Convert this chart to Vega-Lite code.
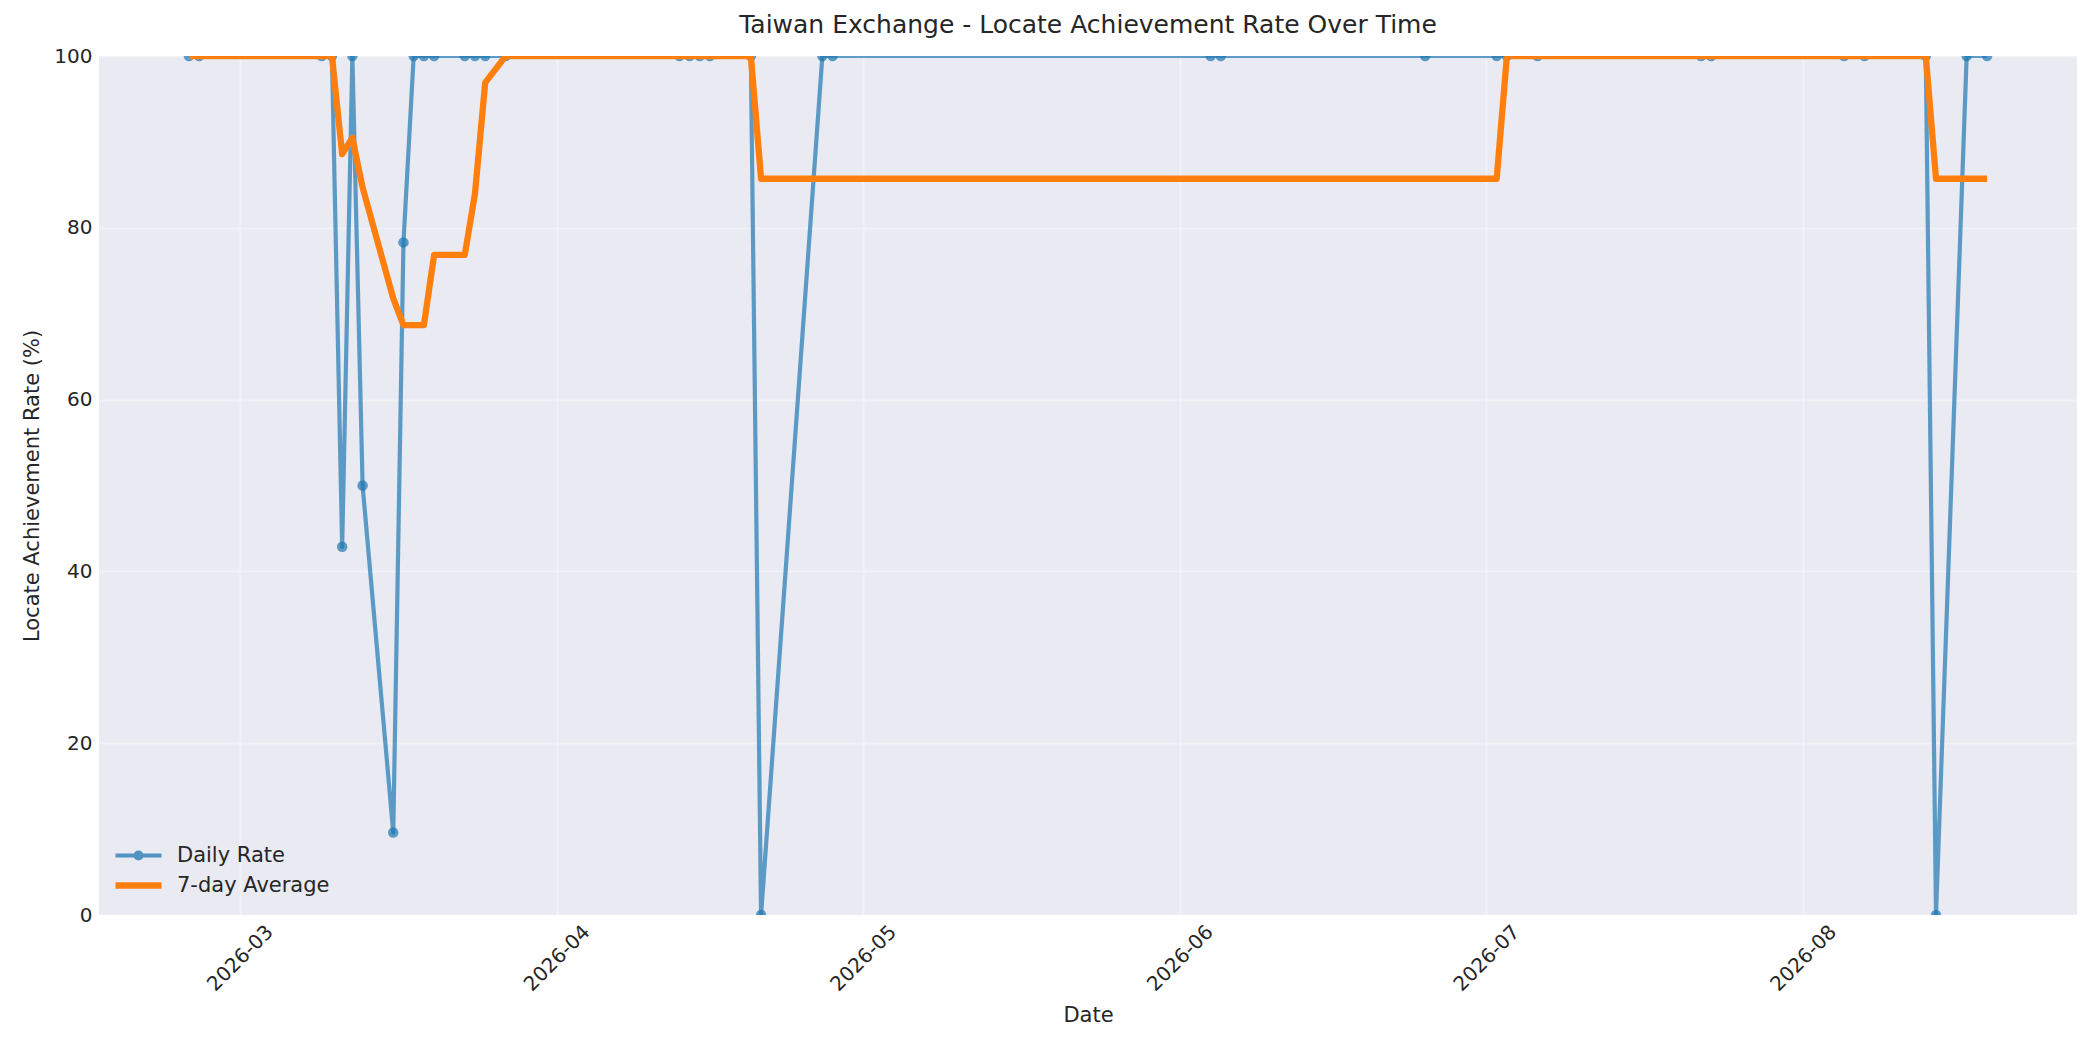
{
  "$schema": "https://vega.github.io/schema/vega-lite/v6.json",
  "width": 1978,
  "height": 859,
  "autosize": {"type": "none"},
  "padding": {"left": 99, "top": 56, "right": 23, "bottom": 135},
  "background": "#ffffff",
  "title": {
    "text": "Taiwan Exchange - Locate Achievement Rate Over Time",
    "fontSize": 25,
    "fontWeight": "normal",
    "font": "DejaVu Sans",
    "color": "#262626",
    "anchor": "middle",
    "offset": 8
  },
  "data": {
    "values": [
      {"date": "2026-02-24T00:00:00", "daily": 100, "avg": 100},
      {"date": "2026-02-25T00:00:00", "daily": 100, "avg": 100},
      {"date": "2026-03-09T00:00:00", "daily": 100, "avg": 100},
      {"date": "2026-03-10T00:00:00", "daily": 100, "avg": 100},
      {"date": "2026-03-11T00:00:00", "daily": 42.86, "avg": 88.57},
      {"date": "2026-03-12T00:00:00", "daily": 100, "avg": 90.48},
      {"date": "2026-03-13T00:00:00", "daily": 50, "avg": 84.69},
      {"date": "2026-03-16T00:00:00", "daily": 9.6, "avg": 71.78},
      {"date": "2026-03-17T00:00:00", "daily": 78.3, "avg": 68.68},
      {"date": "2026-03-18T00:00:00", "daily": 100, "avg": 68.68},
      {"date": "2026-03-19T00:00:00", "daily": 100, "avg": 68.68},
      {"date": "2026-03-20T00:00:00", "daily": 100, "avg": 76.84},
      {"date": "2026-03-23T00:00:00", "daily": 100, "avg": 76.84},
      {"date": "2026-03-24T00:00:00", "daily": 100, "avg": 83.99},
      {"date": "2026-03-25T00:00:00", "daily": 100, "avg": 96.9},
      {"date": "2026-03-27T00:00:00", "daily": 100, "avg": 100},
      {"date": "2026-04-13T00:00:00", "daily": 100, "avg": 100},
      {"date": "2026-04-14T00:00:00", "daily": 100, "avg": 100},
      {"date": "2026-04-15T00:00:00", "daily": 100, "avg": 100},
      {"date": "2026-04-16T00:00:00", "daily": 100, "avg": 100},
      {"date": "2026-04-20T00:00:00", "daily": 100, "avg": 100},
      {"date": "2026-04-21T00:00:00", "daily": 0, "avg": 85.71},
      {"date": "2026-04-27T00:00:00", "daily": 100, "avg": 85.71},
      {"date": "2026-04-28T00:00:00", "daily": 100, "avg": 85.71},
      {"date": "2026-06-04T00:00:00", "daily": 100, "avg": 85.71},
      {"date": "2026-06-05T00:00:00", "daily": 100, "avg": 85.71},
      {"date": "2026-06-25T00:00:00", "daily": 100, "avg": 85.71},
      {"date": "2026-07-02T00:00:00", "daily": 100, "avg": 85.71},
      {"date": "2026-07-03T00:00:00", "daily": 100, "avg": 100},
      {"date": "2026-07-06T00:00:00", "daily": 100, "avg": 100},
      {"date": "2026-07-22T00:00:00", "daily": 100, "avg": 100},
      {"date": "2026-07-23T00:00:00", "daily": 100, "avg": 100},
      {"date": "2026-08-05T00:00:00", "daily": 100, "avg": 100},
      {"date": "2026-08-07T00:00:00", "daily": 100, "avg": 100},
      {"date": "2026-08-13T00:00:00", "daily": 100, "avg": 100},
      {"date": "2026-08-14T00:00:00", "daily": 0, "avg": 85.71},
      {"date": "2026-08-17T00:00:00", "daily": 100, "avg": 85.71},
      {"date": "2026-08-19T00:00:00", "daily": 100, "avg": 85.71}
    ]
  },
  "encoding": {
    "x": {
      "field": "date",
      "type": "temporal",
      "scale": {
        "domain": [
          {"year": 2026, "month": 2, "date": 15, "hours": 4, "minutes": 48},
          {"year": 2026, "month": 8, "date": 27, "hours": 19, "minutes": 12}
        ]
      },
      "axis": {
        "title": "Date",
        "format": "%Y-%m",
        "tickCount": {"interval": "month", "step": 1},
        "labelAngle": -45,
        "labelAlign": "center",
        "labelBaseline": "middle",
        "labelPadding": 43,
        "titleY": 100,
        "titleBaseline": "middle"
      }
    }
  },
  "layer": [
    {
      "mark": {"type": "line", "strokeWidth": 4.2, "opacity": 0.7, "clip": true, "strokeJoin": "round"},
      "encoding": {
        "y": {
          "field": "daily",
          "type": "quantitative",
          "scale": {"domain": [0, 100], "nice": false},
          "axis": {
            "title": "Locate Achievement Rate (%)",
            "values": [0, 20, 40, 60, 80, 100],
            "titleX": -67,
            "titleBaseline": "middle"
          }
        },
        "color": {
          "datum": "Daily Rate",
          "type": "nominal",
          "scale": {"domain": ["Daily Rate", "7-day Average"], "range": ["#1f77b4", "#ff7f0e"]},
          "legend": {
            "title": null,
            "orient": "none",
            "legendX": 29,
            "legendY": 789,
            "padding": 0,
            "rowPadding": 5,
            "labelFontSize": 21,
            "labelColor": "#262626",
            "labelFont": "DejaVu Sans",
            "labelOffset": 28,
            "symbolSize": 2116,
            "symbolType": {"expr": "datum.value === 'Daily Rate' ? 'M-1,0L1,0M-0.13,0A0.13,0.13,0,1,0,0.13,0A0.13,0.13,0,1,0,-0.13,0' : 'stroke'"},
            "symbolStrokeWidth": {"expr": "datum.value === 'Daily Rate' ? 4.2 : 6.3"},
            "symbolOpacity": {"expr": "datum.value === 'Daily Rate' ? 0.75 : 1"}
          }
        }
      }
    },
    {
      "mark": {"type": "point", "filled": true, "size": 110, "opacity": 0.7, "clip": true, "shape": "circle"},
      "encoding": {
        "y": {"field": "daily", "type": "quantitative"},
        "color": {"datum": "Daily Rate", "type": "nominal", "legend": null}
      }
    },
    {
      "mark": {"type": "line", "strokeWidth": 6.3, "clip": true, "strokeJoin": "round"},
      "encoding": {
        "y": {"field": "avg", "type": "quantitative"},
        "color": {"datum": "7-day Average", "type": "nominal", "legend": null}
      }
    }
  ],
  "config": {
    "font": "DejaVu Sans",
    "view": {"fill": "#eaeaf2", "stroke": null},
    "axis": {
      "domain": false,
      "ticks": false,
      "tickSize": 0,
      "grid": true,
      "gridColor": "#ffffff",
      "gridOpacity": 0.35,
      "gridWidth": 2,
      "labelFont": "DejaVu Sans",
      "labelFontSize": 20,
      "labelColor": "#262626",
      "labelPadding": 7,
      "titleFont": "DejaVu Sans",
      "titleFontSize": 21,
      "titleFontWeight": "normal",
      "titleColor": "#262626"
    }
  }
}
